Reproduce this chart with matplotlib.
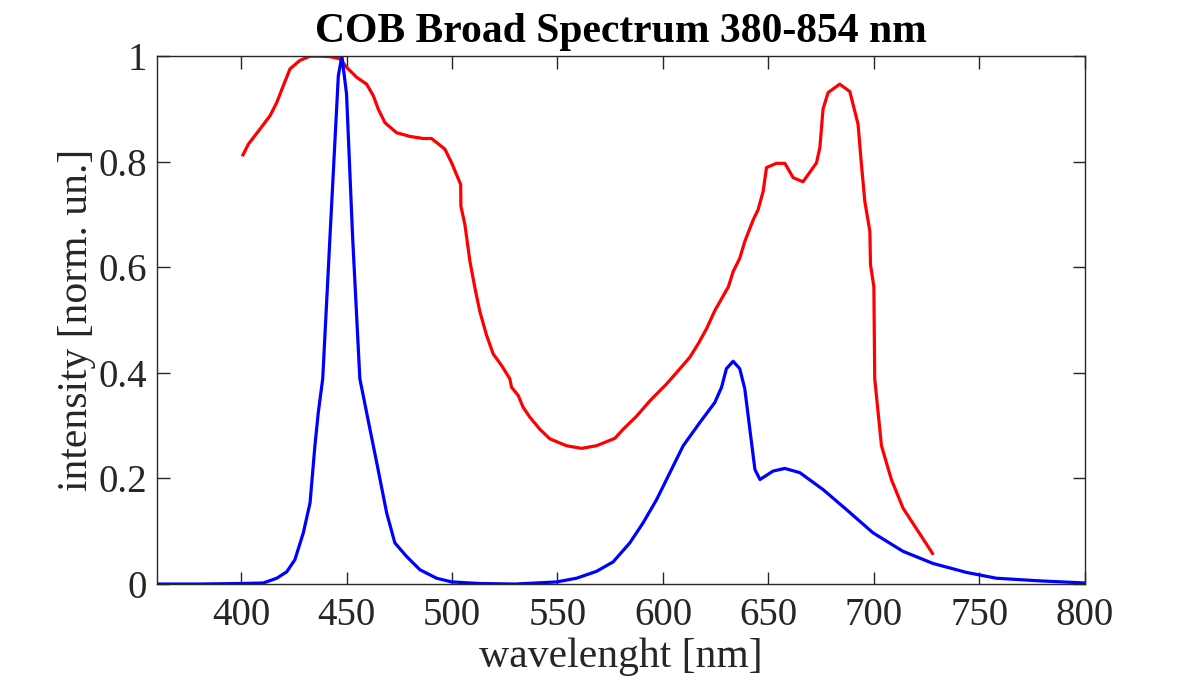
import matplotlib
matplotlib.use('Agg')
import matplotlib.pyplot as plt

# red: broad spectrum COB
red_nm = [400.9, 403.4, 408.2, 413.7, 416.9, 420.0, 423.2, 427.9, 432.7, 437.4,
          442.1, 446.9, 450.0, 454.8, 459.5, 462.7, 465.0, 468.2, 473.7, 480.0,
          486.4, 490.3, 496.6, 499.8, 504.1, 504.2, 506.1, 508.5, 510.9, 513.2,
          516.4, 519.5, 523.5, 527.4, 528.2, 531.4, 533.7, 536.9, 541.7, 546.4,
          554.3, 561.4, 568.5, 577.2, 581.1, 587.5, 593.8, 601.7, 607.2, 612.8,
          616.7, 620.7, 624.6, 631.0, 633.3, 636.4, 638.8, 642.8, 645.1, 647.5,
          649.1, 653.8, 657.8, 661.7, 666.4, 672.8, 674.4, 675.9, 678.3, 683.8,
          688.6, 692.5, 694.1, 695.7, 698.1, 698.4, 700.0, 700.4, 703.6, 708.3,
          713.8, 727.8]
red_val = [0.813, 0.833, 0.858, 0.887, 0.912, 0.944, 0.976, 0.992, 1.0, 1.0,
           0.999, 0.995, 0.979, 0.960, 0.947, 0.925, 0.900, 0.874, 0.855, 0.848,
           0.844, 0.844, 0.824, 0.798, 0.757, 0.716, 0.681, 0.611, 0.560, 0.516,
           0.471, 0.436, 0.414, 0.389, 0.373, 0.357, 0.335, 0.316, 0.293, 0.275,
           0.262, 0.257, 0.262, 0.276, 0.293, 0.318, 0.347, 0.379, 0.404, 0.430,
           0.455, 0.484, 0.518, 0.563, 0.592, 0.617, 0.649, 0.690, 0.709, 0.744,
           0.789, 0.797, 0.797, 0.770, 0.762, 0.798, 0.827, 0.900, 0.931, 0.947,
           0.933, 0.871, 0.795, 0.725, 0.668, 0.605, 0.563, 0.389, 0.262, 0.198,
           0.144, 0.058]

# blue: reference LED spectrum
blue_nm = [360, 380, 400, 410.5, 416.9, 421.6, 425.5, 429.5, 432.7, 435.0,
           436.6, 438.7, 442.1, 446.1, 447.8, 450.0, 452.9, 456.3, 459.5, 464.3,
           469.0, 472.9, 478.5, 484.8, 492.7, 499.8, 513.0, 530.0, 549.6, 559.0,
           568.5, 576.4, 584.3, 590.6, 597.0, 603.3, 609.6, 617.5, 624.6, 627.8,
           630.1, 633.3, 636.4, 638.8, 641.2, 643.6, 646.0, 652.2, 657.8, 664.9,
           675.9, 687.0, 699.6, 713.8, 728.0, 743.9, 758.1, 778.6, 800.0]
blue_val = [0.0, 0.0, 0.001, 0.002, 0.011, 0.023, 0.046, 0.097, 0.154, 0.262,
            0.325, 0.389, 0.655, 0.963, 1.0, 0.928, 0.655, 0.389, 0.325, 0.230,
            0.135, 0.078, 0.052, 0.027, 0.011, 0.004, 0.001, 0.0, 0.004, 0.011,
            0.024, 0.042, 0.078, 0.116, 0.160, 0.211, 0.262, 0.306, 0.344, 0.373,
            0.408, 0.422, 0.408, 0.370, 0.293, 0.217, 0.198, 0.214, 0.219, 0.211,
            0.179, 0.141, 0.097, 0.062, 0.039, 0.022, 0.011, 0.006, 0.002]

plt.rcParams['font.family'] = ['Liberation Serif', 'DejaVu Serif']

fig = plt.figure(figsize=(12, 6.85), dpi=100)
ax = fig.add_axes([0.1306, 0.1474, 0.7734, 0.7706])

ax.plot(red_nm, red_val, color='red', lw=2.3)
ax.plot(blue_nm, blue_val, color='blue', lw=2.3)

ax.set_xlim(360, 800)
ax.set_ylim(0, 1)
ax.set_xticks([400, 450, 500, 550, 600, 650, 700, 750, 800])
ax.set_yticks([0, 0.2, 0.4, 0.6, 0.8, 1])
ax.set_yticklabels(['0', '0.2', '0.4', '0.6', '0.8', '1'])

ax.tick_params(direction='in', top=True, right=True, length=9, width=1,
               colors='#262626', labelsize=28, labelcolor='#262626', pad=7)
ax.tick_params(axis='x', pad=9)
for s in ax.spines.values():
    s.set_color('#262626')
    s.set_linewidth(1)

ax.set_xlabel('wavelenght [nm]', fontsize=30, color='#262626', labelpad=3)
ax.set_ylabel('intensity [norm. un.]', fontsize=30, color='#262626', labelpad=2)
ax.set_title('COB Broad Spectrum 380-854 nm', fontsize=30, fontweight='bold', pad=10)

fig.savefig('out.png', dpi=100)
